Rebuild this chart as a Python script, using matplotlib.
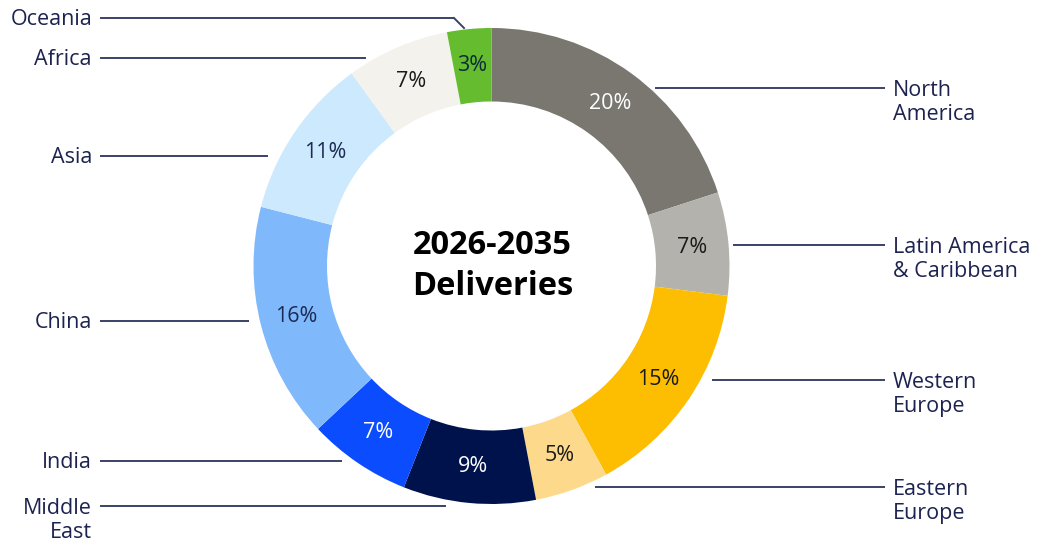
import matplotlib.pyplot as plt

plt.rcParams['font.family'] = ['Open Sans', 'DejaVu Sans']

regions = ['North America', 'Latin America & Caribbean', 'Western Europe', 'Eastern Europe',
           'Middle East', 'India', 'China', 'Asia', 'Africa', 'Oceania']
shares = [20, 7, 15, 5, 9, 7, 16, 11, 7, 3]
slice_colors = ['#797770', '#b4b2ad', '#fdbd00', '#fdd98b', '#00124b',
                '#0b4cff', '#80b9fb', '#cde9fd', '#f4f2ed', '#65bc2f']
pct_colors = ['white', '#1a1a1a', '#1a1a1a', '#1a1a1a', 'white',
              'white', '#1c2b55', '#1c2b55', '#1a1a1a', '#0d2a3a']

# label text shown beside each slice (with line breaks)
label_text = ['North\nAmerica', 'Latin America\n& Caribbean', 'Western\nEurope', 'Eastern\nEurope',
              'Middle\nEast', 'India', 'China', 'Asia', 'Africa', 'Oceania']

W, H = 1038, 548
cx, cy, R, ring = 491.5, 266, 238, 73.5
navy = '#1c2350'
line_col = '#3b4268'

fig = plt.figure(figsize=(W / 100, H / 100), dpi=100)
ax = fig.add_axes([0, 0, 1, 1])

wedges, texts, autotexts = ax.pie(
    shares, colors=slice_colors, startangle=90, counterclock=False,
    radius=R, center=(cx, H - cy), autopct='%.0f%%',
    pctdistance=(R - ring / 2) / R,
    wedgeprops=dict(width=ring, edgecolor='none'),
    textprops=dict(fontsize=15.5))
for t, c in zip(autotexts, pct_colors):
    t.set_color(c)

ax.text(cx + 1, H - cy, '2026-2035\nDeliveries', ha='center', va='center',
        fontsize=23.5, fontweight='bold', color='black', linespacing=1.3)

# leader lines: (y, x_start, x_end) in pixels, plus label side
leaders = {
    'North\nAmerica': (88, 655, 885, 'right'),
    'Latin America\n& Caribbean': (245, 733, 885, 'right'),
    'Western\nEurope': (380, 712, 885, 'right'),
    'Eastern\nEurope': (487, 595, 885, 'right'),
    'Middle\nEast': (506, 100, 446, 'left'),
    'India': (461, 100, 342, 'left'),
    'China': (321, 100, 249, 'left'),
    'Asia': (156, 100, 268, 'left'),
    'Africa': (58, 100, 366, 'left'),
    'Oceania': (18, 100, 454, 'left'),
}

for name in label_text:
    y, x0, x1, side = leaders[name]
    ax.plot([x0, x1], [H - y, H - y], color=line_col, lw=1.4, solid_capstyle='butt')
    nlines = name.count('\n') + 1
    ty = H - y - 1.5 - (nlines - 1) * 13
    if side == 'right':
        ax.text(893, ty, name, ha='left', va='center', fontsize=15.5, color=navy,
                linespacing=1.2)
    else:
        ax.text(92, ty, name, ha='right', va='center', fontsize=15.5, color=navy,
                linespacing=1.2, multialignment='right')

# Oceania leader bends down to its thin slice
ax.plot([454, 464], [H - 18, H - 28], color=line_col, lw=1.4)

ax.set_xlim(0, W)
ax.set_ylim(0, H)
ax.set_aspect('equal')
ax.axis('off')

fig.savefig('out.png', dpi=100)
